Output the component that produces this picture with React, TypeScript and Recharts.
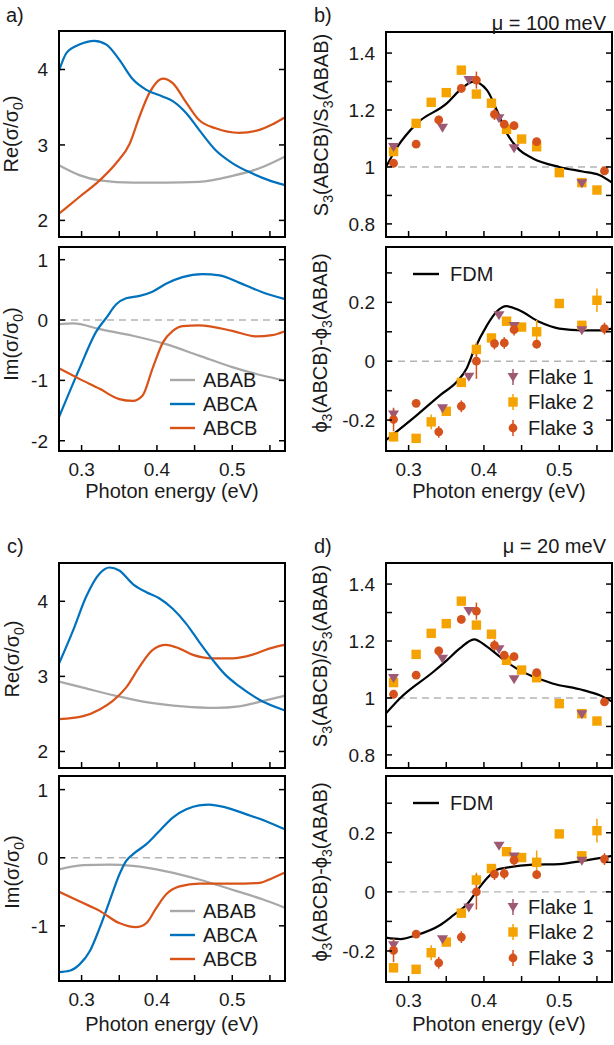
import React from 'react';
import { ComposedChart, Line, Scatter, ErrorBar, XAxis, YAxis, ReferenceLine } from 'recharts';

const FONT = '"Liberation Sans", Arial, Helvetica, sans-serif';
const BLUE = '#0072BD';
const ORANGE = '#D95319';
const GRAY = '#A8A8A8';
const F1_COLOR = '#9E5A74';
const F2_COLOR = '#F5A300';
const F3_COLOR = '#D5521D';
const TEXT_COLOR = '#1a1a1a';

const X_DOMAIN: [number, number] = [0.27, 0.57];
const ENERGY_TICKS = [0.3, 0.35, 0.4, 0.45, 0.5, 0.55];
const ENERGY_LABELS = [0.3, 0.4, 0.5];

// ---- a) Re / Im conductivity, mu = 100 meV ----
const A_RE_ABAB_X = [0.27, 0.297, 0.324, 0.368, 0.412, 0.456, 0.5, 0.536, 0.569];
const A_RE_ABAB = [2.73, 2.6, 2.53, 2.5, 2.5, 2.51, 2.59, 2.69, 2.84];
const A_RE_ABCA_X = [0.27, 0.28, 0.297, 0.317, 0.333, 0.35, 0.368, 0.386, 0.408, 0.421, 0.439, 0.456, 0.478, 0.5, 0.527, 0.549, 0.569];
const A_RE_ABCA = [3.98, 4.22, 4.33, 4.38, 4.33, 4.13, 3.87, 3.73, 3.64, 3.58, 3.42, 3.2, 2.93, 2.76, 2.62, 2.53, 2.47];
const A_RE_ABCB_X = [0.27, 0.297, 0.324, 0.346, 0.364, 0.377, 0.39, 0.408, 0.421, 0.439, 0.456, 0.478, 0.509, 0.536, 0.553, 0.569];
const A_RE_ABCB = [2.09, 2.31, 2.53, 2.76, 3.02, 3.38, 3.69, 3.88, 3.82, 3.56, 3.33, 3.22, 3.16, 3.2, 3.27, 3.36];

const A_IM_ABAB_X = [0.27, 0.289, 0.324, 0.368, 0.412, 0.456, 0.5, 0.54, 0.569];
const A_IM_ABAB = [-0.07, -0.055, -0.15, -0.26, -0.4, -0.59, -0.78, -0.92, -1.0];
const A_IM_ABCA_X = [0.27, 0.297, 0.319, 0.333, 0.346, 0.359, 0.377, 0.394, 0.412, 0.434, 0.46, 0.483, 0.509, 0.54, 0.569];
const A_IM_ABCA = [-1.61, -0.81, -0.2, 0.04, 0.26, 0.36, 0.4, 0.47, 0.6, 0.71, 0.76, 0.74, 0.62, 0.46, 0.35];
const A_IM_ABCB_X = [0.27, 0.297, 0.324, 0.35, 0.368, 0.381, 0.394, 0.408, 0.421, 0.434, 0.456, 0.5, 0.531, 0.553, 0.569];
const A_IM_ABCB = [-0.8, -0.975, -1.14, -1.31, -1.34, -1.25, -0.81, -0.37, -0.18, -0.1, -0.09, -0.18, -0.27, -0.25, -0.19];

// ---- c) Re / Im conductivity, mu = 20 meV ----
const C_RE_ABAB_X = [0.27, 0.302, 0.346, 0.39, 0.434, 0.478, 0.509, 0.54, 0.569];
const C_RE_ABAB = [2.93, 2.85, 2.74, 2.65, 2.6, 2.58, 2.6, 2.67, 2.74];
const C_RE_ABCA_X = [0.27, 0.289, 0.306, 0.324, 0.337, 0.35, 0.368, 0.386, 0.403, 0.421, 0.439, 0.456, 0.474, 0.491, 0.509, 0.536, 0.569];
const C_RE_ABCA = [3.17, 3.62, 4.06, 4.37, 4.45, 4.41, 4.23, 4.12, 4.04, 3.9, 3.7, 3.46, 3.22, 3.02, 2.87, 2.69, 2.55];
const C_RE_ABCB_X = [0.27, 0.302, 0.324, 0.341, 0.359, 0.377, 0.394, 0.412, 0.43, 0.447, 0.474, 0.5, 0.527, 0.549, 0.569];
const C_RE_ABCB = [2.43, 2.47, 2.56, 2.67, 2.85, 3.13, 3.35, 3.42, 3.37, 3.29, 3.24, 3.24, 3.29, 3.37, 3.42];

const C_IM_ABAB_X = [0.27, 0.302, 0.337, 0.368, 0.412, 0.456, 0.5, 0.54, 0.569];
const C_IM_ABAB = [-0.17, -0.11, -0.1, -0.12, -0.2, -0.32, -0.47, -0.61, -0.73];
const C_IM_ABCA_X = [0.27, 0.284, 0.297, 0.311, 0.324, 0.337, 0.35, 0.359, 0.368, 0.386, 0.403, 0.421, 0.439, 0.456, 0.469, 0.491, 0.518, 0.544, 0.569];
const C_IM_ABCA = [-1.68, -1.66, -1.57, -1.37, -1.03, -0.64, -0.25, -0.05, 0.05, 0.2, 0.39, 0.59, 0.71, 0.77, 0.78, 0.74, 0.64, 0.54, 0.42];
const C_IM_ABCB_X = [0.27, 0.297, 0.324, 0.35, 0.372, 0.386, 0.399, 0.412, 0.43, 0.456, 0.5, 0.536, 0.553, 0.569];
const C_IM_ABCB = [-0.5, -0.64, -0.78, -0.96, -1.02, -0.96, -0.74, -0.54, -0.42, -0.38, -0.38, -0.37, -0.3, -0.22];

// ---- b), d) measured flakes (same data in both) ----
const FLAKE1_X = [0.28, 0.345, 0.38, 0.42, 0.44, 0.53];
const FLAKE1_S3 = [1.07, 1.138, 1.305, 1.171, 1.066, 0.943];
const FLAKE1_S3_ERR = [0.01, 0.01, 0.01, 0.01, 0.01, 0.01];
const FLAKE1_PHI = [-0.181, -0.16, -0.053, 0.156, 0.12, 0.105];
const FLAKE1_PHI_ERR = [0.02, 0.01, 0.01, 0.01, 0.01, 0.01];

const FLAKE2_X = [0.28, 0.31, 0.33, 0.35, 0.37, 0.39, 0.41, 0.43, 0.45, 0.47, 0.5, 0.53, 0.55];
const FLAKE2_S3 = [1.054, 1.153, 1.227, 1.261, 1.34, 1.256, 1.224, 1.132, 1.098, 1.071, 0.98, 0.945, 0.919];
const FLAKE2_S3_ERR = [0.012, 0.012, 0.012, 0.01, 0.01, 0.012, 0.012, 0.01, 0.01, 0.012, 0.01, 0.01, 0.01];
const FLAKE2_PHI = [-0.257, -0.262, -0.206, -0.17, -0.072, 0.04, 0.079, 0.136, 0.116, 0.1, 0.196, 0.122, 0.207];
const FLAKE2_PHI_ERR = [0.015, 0.01, 0.025, 0.01, 0.01, 0.025, 0.015, 0.01, 0.01, 0.04, 0.01, 0.015, 0.04];

const FLAKE3_X = [0.28, 0.31, 0.34, 0.37, 0.39, 0.414, 0.427, 0.44, 0.47, 0.56];
const FLAKE3_S3 = [1.013, 1.08, 1.165, 1.276, 1.305, 1.185, 1.15, 1.145, 1.089, 0.986];
const FLAKE3_S3_ERR = [0.015, 0.008, 0.015, 0.015, 0.03, 0.02, 0.015, 0.015, 0.01, 0.012];
const FLAKE3_PHI = [-0.198, -0.143, -0.24, -0.153, 0.0, 0.06, 0.062, 0.107, 0.058, 0.111];
const FLAKE3_PHI_ERR = [0.04, 0.01, 0.02, 0.02, 0.06, 0.02, 0.02, 0.02, 0.015, 0.02];

// FDM model curves
const B_FDM_S3_X = [0.27, 0.285, 0.311, 0.351, 0.368, 0.386, 0.404, 0.417, 0.43, 0.447, 0.465, 0.5, 0.531, 0.553, 0.57];
const B_FDM_S3 = [1.0, 1.07, 1.153, 1.224, 1.27, 1.3, 1.27, 1.2, 1.12, 1.06, 1.03, 1.0, 0.984, 0.972, 0.945];
const B_FDM_PHI_X = [0.27, 0.311, 0.342, 0.364, 0.377, 0.386, 0.404, 0.417, 0.43, 0.447, 0.474, 0.5, 0.531, 0.553, 0.57];
const B_FDM_PHI = [-0.268, -0.183, -0.115, -0.07, -0.025, 0.032, 0.122, 0.169, 0.187, 0.173, 0.133, 0.111, 0.105, 0.105, 0.111];
const D_FDM_S3_X = [0.27, 0.289, 0.333, 0.351, 0.368, 0.387, 0.404, 0.421, 0.443, 0.465, 0.491, 0.531, 0.553, 0.57];
const D_FDM_S3 = [0.946, 1.0, 1.092, 1.133, 1.174, 1.206, 1.18, 1.145, 1.104, 1.075, 1.051, 1.028, 1.01, 0.987];
const D_FDM_PHI_X = [0.27, 0.289, 0.311, 0.342, 0.36, 0.377, 0.39, 0.404, 0.417, 0.43, 0.465, 0.5, 0.531, 0.553, 0.57];
const D_FDM_PHI = [-0.155, -0.16, -0.146, -0.112, -0.078, -0.044, 0.001, 0.046, 0.075, 0.082, 0.092, 0.094, 0.105, 0.114, 0.122];

const RE_TICKS = [2, 3, 4];
const A_IM_TICKS = [-2, -1, 0, 1];
const C_IM_TICKS = [-1, 0, 1];
const S3_TICKS = [0.8, 0.9, 1, 1.1, 1.2, 1.3, 1.4];
const S3_LABELS = [0.8, 1, 1.2, 1.4];
const PHI_TICKS = [-0.2, -0.1, 0, 0.1, 0.2, 0.3];
const PHI_LABELS = [-0.2, 0, 0.2];

const zip = (xs: number[], ys: number[], es?: number[]) =>
  xs.map((x, i) => ({ x, y: ys[i], e: es ? es[i] : 0 }));

const PAD_L = 60;
const PAD_T = 10;
const PAD_R = 10;
const PAD_B = 40;
const TICK_LEN = 6;
const AXIS_LINE = { stroke: '#000', strokeWidth: 2, strokeLinecap: 'square' as const };

const isIn = (list: number[], v: number) => list.some((l) => Math.abs(l - v) < 1e-6);

// inward tick marks, labels outside the frame
const bottomTick = (plotBottom: number, labels: number[] | null) => (p: any) => (
  <g>
    <line x1={p.x} x2={p.x} y1={plotBottom} y2={plotBottom - TICK_LEN} stroke="#000" strokeWidth={1.5} />
    {labels && isIn(labels, p.payload.value) ? (
      <text x={p.x} y={plotBottom + 25} textAnchor="middle" fontSize={19} fontFamily={FONT} fill={TEXT_COLOR}>
        {String(p.payload.value)}
      </text>
    ) : null}
  </g>
);
const topTick = (p: any) => (
  <line x1={p.x} x2={p.x} y1={PAD_T} y2={PAD_T + TICK_LEN} stroke="#000" strokeWidth={1.5} />
);
const leftTick = (labels: number[]) => (p: any) => (
  <g>
    <line x1={PAD_L} x2={PAD_L + TICK_LEN} y1={p.y} y2={p.y} stroke="#000" strokeWidth={1.5} />
    {isIn(labels, p.payload.value) ? (
      <text x={PAD_L - 11} y={p.y + 7} textAnchor="end" fontSize={19} fontFamily={FONT} fill={TEXT_COLOR}>
        {String(p.payload.value)}
      </text>
    ) : null}
  </g>
);
const rightTick = (plotRight: number) => (p: any) => (
  <line x1={plotRight} x2={plotRight - TICK_LEN} y1={p.y} y2={p.y} stroke="#000" strokeWidth={1.5} />
);

const triangleDown = (p: any) => (
  <path d={`M${p.cx - 5.5},${p.cy - 4} L${p.cx + 5.5},${p.cy - 4} L${p.cx},${p.cy + 5} Z`} fill={F1_COLOR} />
);
const square = (p: any) => <rect x={p.cx - 4.7} y={p.cy - 4.7} width={9.4} height={9.4} fill={F2_COLOR} />;
const circle = (p: any) => <circle cx={p.cx} cy={p.cy} r={4.4} fill={F3_COLOR} />;

type PanelProps = {
  frame: [number, number, number, number];
  yDomain: [number, number];
  yTicks: number[];
  yLabels: number[];
  refY: number | null;
  xLabels: boolean;
  series: React.ReactNode[];
};

function Panel({ frame, yDomain, yTicks, yLabels, refY, xLabels, series }: PanelProps) {
  const [x0, y0, x1, y1] = frame;
  const w = x1 - x0 + PAD_L + PAD_R;
  const h = y1 - y0 + PAD_T + PAD_B;
  const plotBottom = h - PAD_B;
  const plotRight = w - PAD_R;
  return (
    <div style={{ position: 'absolute', left: x0 - PAD_L, top: y0 - PAD_T }}>
      {/* top / right axes get 1px so recharts draws them; margins shrink by the same amount */}
      <ComposedChart width={w} height={h} margin={{ top: PAD_T - 1, right: PAD_R - 1, bottom: 0, left: 0 }}>
        <XAxis
          dataKey="x"
          type="number"
          domain={X_DOMAIN}
          allowDataOverflow
          ticks={ENERGY_TICKS}
          interval={0}
          height={PAD_B}
          axisLine={AXIS_LINE}
          tickLine={false}
          tick={bottomTick(plotBottom, xLabels ? ENERGY_LABELS : null)}
        />
        <XAxis
          xAxisId="top"
          orientation="top"
          type="number"
          domain={X_DOMAIN}
          allowDataOverflow
          ticks={ENERGY_TICKS}
          interval={0}
          height={1}
          axisLine={AXIS_LINE}
          tickLine={false}
          tick={topTick}
        />
        <YAxis
          type="number"
          domain={yDomain}
          allowDataOverflow
          ticks={yTicks}
          interval={0}
          width={PAD_L}
          axisLine={AXIS_LINE}
          tickLine={false}
          tick={leftTick(yLabels)}
        />
        <YAxis
          yAxisId="right"
          orientation="right"
          type="number"
          domain={yDomain}
          allowDataOverflow
          ticks={yTicks}
          interval={0}
          width={1}
          axisLine={AXIS_LINE}
          tickLine={false}
          tick={rightTick(plotRight)}
        />
        {refY !== null ? (
          <ReferenceLine y={refY} stroke="#B4B4B4" strokeWidth={1.4} strokeDasharray="7 5" />
        ) : null}
        {series}
      </ComposedChart>
    </div>
  );
}

const curve = (key: string, xs: number[], ys: number[], color: string) => (
  <Line
    key={key}
    data={zip(xs, ys)}
    dataKey="y"
    type="monotone"
    stroke={color}
    strokeWidth={2.2}
    dot={false}
    isAnimationActive={false}
  />
);

const flakes = (ys1: number[], e1: number[], ys2: number[], e2: number[], ys3: number[], e3: number[]) => [
  <Scatter key="f2" data={zip(FLAKE2_X, ys2, e2)} dataKey="y" shape={square} isAnimationActive={false}>
    <ErrorBar dataKey="e" direction="y" width={0} stroke={F2_COLOR} strokeWidth={1.5} />
  </Scatter>,
  <Scatter key="f1" data={zip(FLAKE1_X, ys1, e1)} dataKey="y" shape={triangleDown} isAnimationActive={false}>
    <ErrorBar dataKey="e" direction="y" width={0} stroke={F1_COLOR} strokeWidth={1.5} />
  </Scatter>,
  <Scatter key="f3" data={zip(FLAKE3_X, ys3, e3)} dataKey="y" shape={circle} isAnimationActive={false}>
    <ErrorBar dataKey="e" direction="y" width={0} stroke={F3_COLOR} strokeWidth={1.5} />
  </Scatter>,
];

const CondLegend = ({ x, y }: { x: number; y: number }) => (
  <g>
    {[
      ['ABAB', GRAY],
      ['ABCA', BLUE],
      ['ABCB', ORANGE],
    ].map(([name, color], i) => (
      <g key={name}>
        <line x1={x} x2={x + 25} y1={y + i * 24} y2={y + i * 24} stroke={color} strokeWidth={2.4} />
        <text x={x + 33} y={y + i * 24 + 7} fontSize={20}>
          {name}
        </text>
      </g>
    ))}
  </g>
);

const FlakeLegend = ({ x, y, fdmY }: { x: number; y: number; fdmY: number }) => (
  <g>
    <line x1={413} x2={439} y1={fdmY} y2={fdmY} stroke="#000" strokeWidth={2.4} />
    <text x={450} y={fdmY + 7} fontSize={20}>FDM</text>
    <line x1={x} x2={x} y1={y - 8} y2={y + 8} stroke={F1_COLOR} strokeWidth={1.5} />
    <path d={`M${x - 5.5},${y - 4} L${x + 5.5},${y - 4} L${x},${y + 5} Z`} fill={F1_COLOR} />
    <text x={528} y={y + 7} fontSize={20}>Flake 1</text>
    <line x1={x} x2={x} y1={y + 17} y2={y + 33} stroke={F2_COLOR} strokeWidth={1.5} />
    <rect x={x - 4.7} y={y + 25 - 4.7} width={9.4} height={9.4} fill={F2_COLOR} />
    <text x={528} y={y + 32} fontSize={20}>Flake 2</text>
    <line x1={x} x2={x} y1={y + 43} y2={y + 59} stroke={F3_COLOR} strokeWidth={1.5} />
    <circle cx={x} cy={y + 51} r={4.4} fill={F3_COLOR} />
    <text x={528} y={y + 58} fontSize={20}>Flake 3</text>
  </g>
);

const yLabel = (cx: number, cy: number, content: React.ReactNode) => (
  <text x={cx + 7} y={cy} transform={`rotate(-90 ${cx} ${cy})`} textAnchor="middle" fontSize={20}>
    {content}
  </text>
);

const SUB = { dy: 5, fontSize: 14 };
const UP = { dy: -5 };

const reLabel = (
  <>
    Re(σ/σ<tspan {...SUB}>0</tspan>
    <tspan {...UP}>)</tspan>
  </>
);
const imLabel = (
  <>
    Im(σ/σ<tspan {...SUB}>0</tspan>
    <tspan {...UP}>)</tspan>
  </>
);
const s3Label = (
  <>
    S<tspan {...SUB}>3</tspan>
    <tspan {...UP}>(ABCB)/S</tspan>
    <tspan {...SUB}>3</tspan>
    <tspan {...UP}>(ABAB)</tspan>
  </>
);
const phiLabel = (
  <>
    ϕ<tspan {...SUB}>3</tspan>
    <tspan {...UP}>(ABCB)-ϕ</tspan>
    <tspan {...SUB}>3</tspan>
    <tspan {...UP}>(ABAB)</tspan>
  </>
);

const Overlay = () => (
  <svg
    width={614}
    height={1045}
    style={{ position: 'absolute', left: 0, top: 0, pointerEvents: 'none', fontFamily: FONT }}
    fill={TEXT_COLOR}
  >
    <text x={6} y={22} fontSize={20}>a)</text>
    <text x={314} y={22} fontSize={20}>b)</text>
    <text x={7} y={553} fontSize={20}>c)</text>
    <text x={314} y={553} fontSize={20}>d)</text>
    <text x={606} y={30} fontSize={20} textAnchor="end">μ = 100 meV</text>
    <text x={606} y={553} fontSize={20} textAnchor="end">μ = 20 meV</text>

    {yLabel(18, 141, reLabel)}
    {yLabel(18, 351, imLabel)}
    {yLabel(19, 666, reLabel)}
    {yLabel(19, 879, imLabel)}
    {yLabel(328, 132, s3Label)}
    {yLabel(327, 350, phiLabel)}
    {yLabel(327, 663, s3Label)}
    {yLabel(327, 879, phiLabel)}

    <text x={172} y={498} fontSize={20} textAnchor="middle">Photon energy (eV)</text>
    <text x={499} y={498} fontSize={20} textAnchor="middle">Photon energy (eV)</text>
    <text x={172} y={1031} fontSize={20} textAnchor="middle">Photon energy (eV)</text>
    <text x={499} y={1031} fontSize={20} textAnchor="middle">Photon energy (eV)</text>

    <CondLegend x={170} y={380} />
    <CondLegend x={170} y={911} />
    <FlakeLegend x={513} y={377} fdmY={274} />
    <FlakeLegend x={513} y={907} fdmY={803} />
  </svg>
);

export default function App() {
  return (
    <div style={{ position: 'absolute', left: 0, top: 0, width: 614, height: 1045, background: '#fff', fontFamily: FONT }}>
      <Panel
        frame={[59, 31, 285, 237]}
        yDomain={[1.78, 4.51]}
        yTicks={RE_TICKS}
        yLabels={RE_TICKS}
        refY={null}
        xLabels={false}
        series={[
          curve('abab', A_RE_ABAB_X, A_RE_ABAB, GRAY),
          curve('abcb', A_RE_ABCB_X, A_RE_ABCB, ORANGE),
          curve('abca', A_RE_ABCA_X, A_RE_ABCA, BLUE),
        ]}
      />
      <Panel
        frame={[59, 247, 285, 451]}
        yDomain={[-2.17, 1.21]}
        yTicks={A_IM_TICKS}
        yLabels={A_IM_TICKS}
        refY={0}
        xLabels
        series={[
          curve('abab', A_IM_ABAB_X, A_IM_ABAB, GRAY),
          curve('abca', A_IM_ABCA_X, A_IM_ABCA, BLUE),
          curve('abcb', A_IM_ABCB_X, A_IM_ABCB, ORANGE),
        ]}
      />
      <Panel
        frame={[386, 32, 612, 237]}
        yDomain={[0.754, 1.474]}
        yTicks={S3_TICKS}
        yLabels={S3_LABELS}
        refY={1}
        xLabels={false}
        series={[
          ...flakes(FLAKE1_S3, FLAKE1_S3_ERR, FLAKE2_S3, FLAKE2_S3_ERR, FLAKE3_S3, FLAKE3_S3_ERR),
          curve('fdm', B_FDM_S3_X, B_FDM_S3, '#000'),
        ]}
      />
      <Panel
        frame={[386, 247, 612, 451]}
        yDomain={[-0.305, 0.388]}
        yTicks={PHI_TICKS}
        yLabels={PHI_LABELS}
        refY={0}
        xLabels
        series={[
          curve('fdm', B_FDM_PHI_X, B_FDM_PHI, '#000'),
          ...flakes(FLAKE1_PHI, FLAKE1_PHI_ERR, FLAKE2_PHI, FLAKE2_PHI_ERR, FLAKE3_PHI, FLAKE3_PHI_ERR),
        ]}
      />
      <Panel
        frame={[59, 563, 285, 768]}
        yDomain={[1.78, 4.51]}
        yTicks={RE_TICKS}
        yLabels={RE_TICKS}
        refY={null}
        xLabels={false}
        series={[
          curve('abab', C_RE_ABAB_X, C_RE_ABAB, GRAY),
          curve('abcb', C_RE_ABCB_X, C_RE_ABCB, ORANGE),
          curve('abca', C_RE_ABCA_X, C_RE_ABCA, BLUE),
        ]}
      />
      <Panel
        frame={[59, 776, 285, 981]}
        yDomain={[-1.81, 1.2]}
        yTicks={C_IM_TICKS}
        yLabels={C_IM_TICKS}
        refY={0}
        xLabels
        series={[
          curve('abab', C_IM_ABAB_X, C_IM_ABAB, GRAY),
          curve('abca', C_IM_ABCA_X, C_IM_ABCA, BLUE),
          curve('abcb', C_IM_ABCB_X, C_IM_ABCB, ORANGE),
        ]}
      />
      <Panel
        frame={[386, 563, 612, 768]}
        yDomain={[0.754, 1.474]}
        yTicks={S3_TICKS}
        yLabels={S3_LABELS}
        refY={1}
        xLabels={false}
        series={[
          ...flakes(FLAKE1_S3, FLAKE1_S3_ERR, FLAKE2_S3, FLAKE2_S3_ERR, FLAKE3_S3, FLAKE3_S3_ERR),
          curve('fdm', D_FDM_S3_X, D_FDM_S3, '#000'),
        ]}
      />
      <Panel
        frame={[386, 776, 612, 982]}
        yDomain={[-0.305, 0.392]}
        yTicks={PHI_TICKS}
        yLabels={PHI_LABELS}
        refY={0}
        xLabels
        series={[
          curve('fdm', D_FDM_PHI_X, D_FDM_PHI, '#000'),
          ...flakes(FLAKE1_PHI, FLAKE1_PHI_ERR, FLAKE2_PHI, FLAKE2_PHI_ERR, FLAKE3_PHI, FLAKE3_PHI_ERR),
        ]}
      />
      <Overlay />
    </div>
  );
}
